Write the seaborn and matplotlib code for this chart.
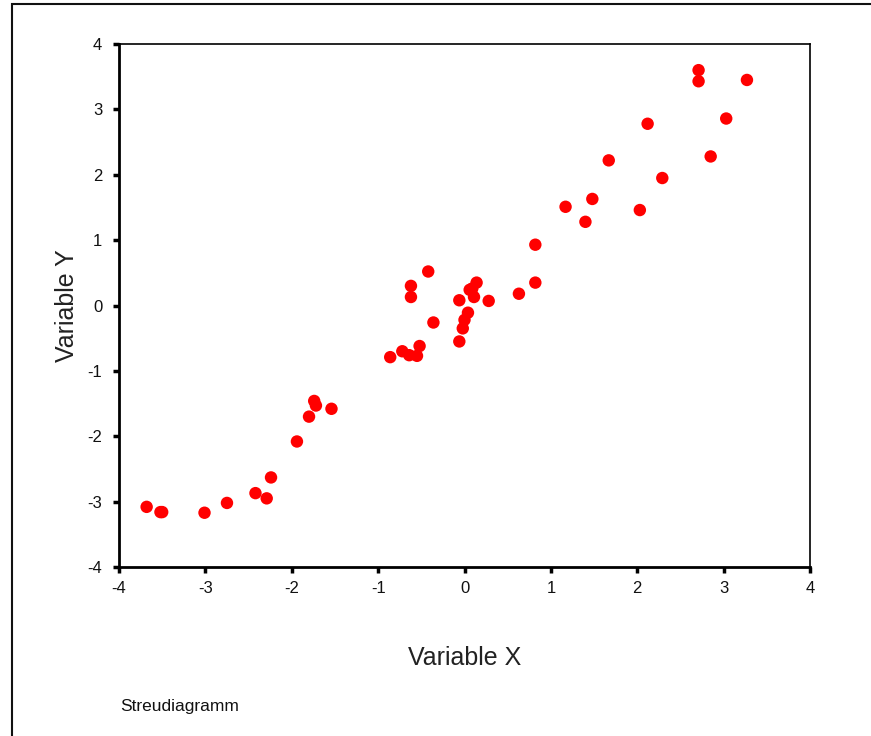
import matplotlib
matplotlib.use("Agg")
import matplotlib.pyplot as plt
import seaborn as sns
import pandas as pd
from matplotlib.patches import Rectangle

x_vals = [-3.68, -3.52, -3.50, -3.01, -2.75, -2.42, -2.29, -2.24, -1.94, -1.80,
          -1.74, -1.72, -1.54, -0.86, -0.72, -0.64, -0.55, -0.52, -0.36, -0.62,
          -0.62, -0.42, -0.06, -0.06, -0.02, 0.00, 0.04, 0.06, 0.11, 0.14,
          0.09, 0.28, 0.63, 0.82, 0.82, 1.17, 1.40, 1.48, 1.67, 2.03,
          2.12, 2.29, 2.71, 2.71, 2.85, 3.03, 3.27]
y_vals = [-3.08, -3.16, -3.16, -3.17, -3.02, -2.87, -2.95, -2.63, -2.08, -1.70,
          -1.46, -1.53, -1.58, -0.79, -0.70, -0.76, -0.77, -0.62, -0.26, 0.30,
          0.13, 0.52, 0.08, -0.55, -0.35, -0.22, -0.11, 0.24, 0.13, 0.35,
          0.26, 0.07, 0.18, 0.35, 0.93, 1.51, 1.28, 1.63, 2.22, 1.46,
          2.78, 1.95, 3.60, 3.43, 2.28, 2.86, 3.45]
ticks = [-4, -3, -2, -1, 0, 1, 2, 3, 4]

sns.set_theme(style="white")
plt.rcParams['font.family'] = ['Liberation Sans', 'DejaVu Sans']

df = pd.DataFrame({"x": x_vals, "y": y_vals})

fig = plt.figure(figsize=(8.71, 7.36), dpi=100)
ax = fig.add_axes([119/871, 1-567/736, (810-119)/871, (567-44)/736])

sns.scatterplot(data=df, x="x", y="y", ax=ax, color="#ff0000", edgecolor="none",
                s=80, linewidth=0)

ax.set_xlim(-4, 4)
ax.set_ylim(-4, 4)
ax.set_xticks(ticks)
ax.set_yticks(ticks)
ax.set_xticklabels([str(t) for t in ticks], fontsize=12)
ax.set_yticklabels([str(t) for t in ticks], fontsize=12)
ax.tick_params(direction="out", length=4, width=2.5, color="black",
               bottom=True, left=True, labelcolor="#111111")
ax.tick_params(axis="x", pad=6)
ax.tick_params(axis="y", pad=8)
for side in ["left", "bottom"]:
    ax.spines[side].set_linewidth(2.0)
    ax.spines[side].set_color("black")
for side in ["top", "right"]:
    ax.spines[side].set_linewidth(1.2)
    ax.spines[side].set_color("black")

ax.set_xlabel("Variable X", fontsize=18, labelpad=36, color="#222222")
ax.set_ylabel("Variable Y", fontsize=18, labelpad=6, color="#222222")

fig.text(120/871, 1-706/736, "Streudiagramm", fontsize=12.5, va="center", ha="left",
         color="#111111")

frame = Rectangle((12/871, -0.05), 1.05, 1-4/736+0.05, transform=fig.transFigure,
                  fill=False, edgecolor="#111111", linewidth=1.5, clip_on=False)
fig.add_artist(frame)

fig.savefig("out.png", dpi=100)
